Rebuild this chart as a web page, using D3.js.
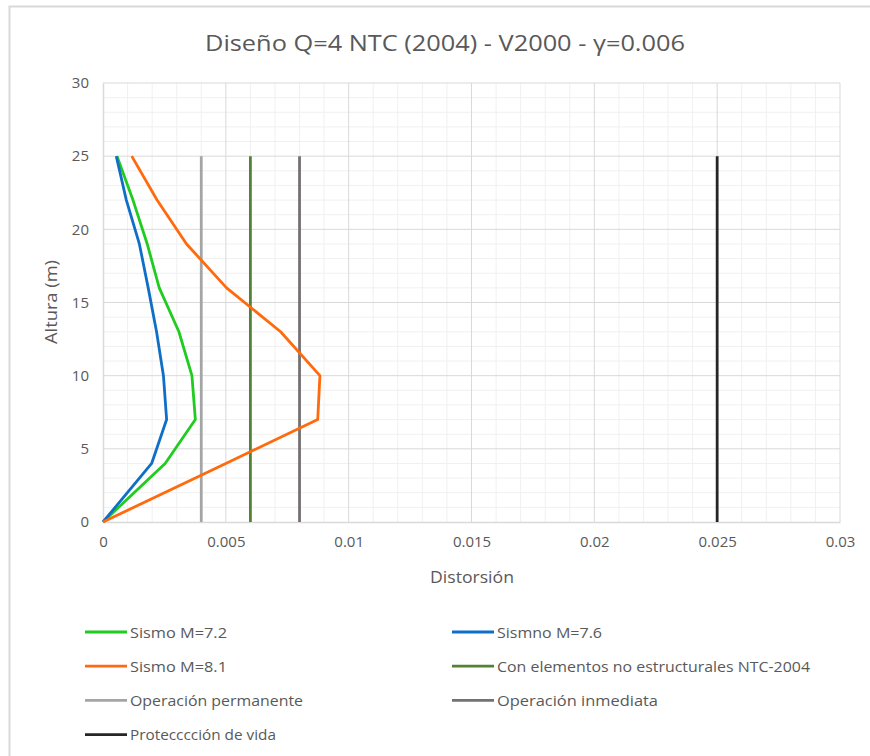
<!DOCTYPE html>
<html><head><meta charset="utf-8">
<script src="https://cdn.jsdelivr.net/npm/d3@7"></script>
<style>body{margin:0;background:#fff;}</style>
</head><body><svg id="c" width="870" height="756"></svg>
<script>
const heights = [0, 4, 7, 10, 13, 16, 19, 22, 25];
const sismo72 = [0, 0.00253, 0.00376, 0.00362, 0.00309, 0.00229, 0.00180, 0.00122, 0.00057];
const sismo76 = [0, 0.00198, 0.00259, 0.00246, 0.00218, 0.00184, 0.00148, 0.00095, 0.00054];
const sismo81 = [0, 0.00500, 0.00874, 0.00883, 0.00723, 0.00503, 0.00340, 0.00220, 0.00117];
const limitNames = ["Con elementos no estructurales NTC-2004", "Operación permanente", "Operación inmediata", "Protecccción de vida"];
const limitValues = [0.006, 0.004, 0.008, 0.025];
const limitColors = ["#548235", "#A5A5A5", "#767171", "#262626"];
const limitHeights = [0, 25];
const xTicks = [0, 0.005, 0.01, 0.015, 0.02, 0.025, 0.03];
const yTicks = [0, 5, 10, 15, 20, 25, 30];
const seriesNames = ["Sismo M=7.2", "Sismno M=7.6", "Sismo M=8.1"];
const seriesColors = ["#1FCC1F", "#0F6FC6", "#FF6A0D"];
const seriesValues = [sismo72, sismo76, sismo81];

const svg = d3.select("#c");
const font = '"Open Sans",sans-serif';
const txt = "#595959";
svg.append("rect").attr("x", 9.5).attr("y", 6.5).attr("width", 900).attr("height", 800)
  .attr("fill", "none").attr("stroke", "#d9d9d9").attr("stroke-width", 2);

const x = d3.scaleLinear().domain([0, 0.03]).range([103, 840]);
const y = d3.scaleLinear().domain([0, 30]).range([522, 83]);

const g = svg.append("g");
g.selectAll(".mx").data(d3.range(1, 30).filter(i => i % 5 !== 0).map(i => i * 0.001))
  .join("line").attr("x1", d => x(d)).attr("x2", d => x(d)).attr("y1", y(0)).attr("y2", y(30))
  .attr("stroke", "#f0f0f0").attr("stroke-width", 1);
g.selectAll(".my").data(d3.range(1, 30).filter(d => d % 5 !== 0))
  .join("line").attr("x1", x(0)).attr("x2", x(0.03)).attr("y1", d => y(d)).attr("y2", d => y(d))
  .attr("stroke", "#f0f0f0").attr("stroke-width", 1);
g.selectAll(".Mx").data(xTicks.slice(1)).join("line")
  .attr("x1", d => x(d)).attr("x2", d => x(d)).attr("y1", y(0)).attr("y2", y(30))
  .attr("stroke", "#d9d9d9").attr("stroke-width", 1);
g.selectAll(".My").data(yTicks.slice(1)).join("line")
  .attr("x1", x(0)).attr("x2", x(0.03)).attr("y1", d => y(d)).attr("y2", d => y(d))
  .attr("stroke", "#d9d9d9").attr("stroke-width", 1);

const xa = svg.append("g").attr("transform", `translate(0,${y(0)})`)
  .call(d3.axisBottom(x).tickValues(xTicks).tickSize(0).tickPadding(14).tickFormat(d => d === 0 ? "0" : String(+d.toFixed(3))));
const ya = svg.append("g").attr("transform", `translate(${x(0)},0)`)
  .call(d3.axisLeft(y).tickValues(yTicks).tickSize(0).tickPadding(14));
[xa, ya].forEach(a => {
  a.select(".domain").attr("stroke", "#d9d9d9").attr("stroke-width", 1.5);
  a.selectAll("text").attr("fill", txt).attr("font-size", 15).attr("font-family", font);
});

limitValues.forEach((v, i) => {
  svg.append("path").datum(limitHeights)
    .attr("d", d3.line().x(() => x(v)).y(h => y(h)))
    .attr("stroke", limitColors[i]).attr("stroke-width", 2.8).attr("fill", "none");
});
const line = d3.line().x(d => x(d[0])).y(d => y(d[1]));
seriesValues.forEach((vals, k) => {
  svg.append("path").datum(vals.map((v, i) => [v, heights[i]]))
    .attr("d", line).attr("stroke", seriesColors[k]).attr("stroke-width", 2.8)
    .attr("fill", "none").attr("stroke-linejoin", "round");
});

svg.append("text").attr("x", 445).attr("y", 51).attr("text-anchor", "middle")
  .attr("font-size", 21).attr("font-family", font).attr("fill", txt)
  .attr("textLength", 480).attr("lengthAdjust", "spacingAndGlyphs")
  .text("Diseño Q=4 NTC (2004) - V2000 - γ=0.006");
svg.append("text").attr("x", 472).attr("y", 583).attr("text-anchor", "middle")
  .attr("font-size", 15.5).attr("font-family", font).attr("fill", txt)
  .attr("textLength", 84).attr("lengthAdjust", "spacingAndGlyphs").text("Distorsión");
svg.append("text").attr("transform", "translate(57,302) rotate(-90)").attr("text-anchor", "middle")
  .attr("font-size", 15.5).attr("font-family", font).attr("fill", txt)
  .attr("textLength", 84).attr("lengthAdjust", "spacingAndGlyphs").text("Altura (m)");

const legendNames = [seriesNames[0], seriesNames[1], seriesNames[2], limitNames[0], limitNames[1], limitNames[2], limitNames[3]];
const legendColors = [seriesColors[0], seriesColors[1], seriesColors[2], limitColors[0], limitColors[1], limitColors[2], limitColors[3]];
const legendTextLen = [97, 105, 97, 313, 173, 161, 146];
const lg = svg.append("g");
legendNames.forEach((name, i) => {
  const col = i % 2, row = Math.floor(i / 2);
  const lx = col === 0 ? 85 : 452;
  const ly = 632 + row * 34.2;
  lg.append("line").attr("x1", lx).attr("x2", lx + 42).attr("y1", ly).attr("y2", ly)
    .attr("stroke", legendColors[i]).attr("stroke-width", 2.8);
  lg.append("text").attr("x", lx + 45).attr("y", ly + 5.5).attr("font-size", 15)
    .attr("font-family", font).attr("fill", txt)
    .attr("textLength", legendTextLen[i]).attr("lengthAdjust", "spacingAndGlyphs").text(name);
});
</script></body></html>
